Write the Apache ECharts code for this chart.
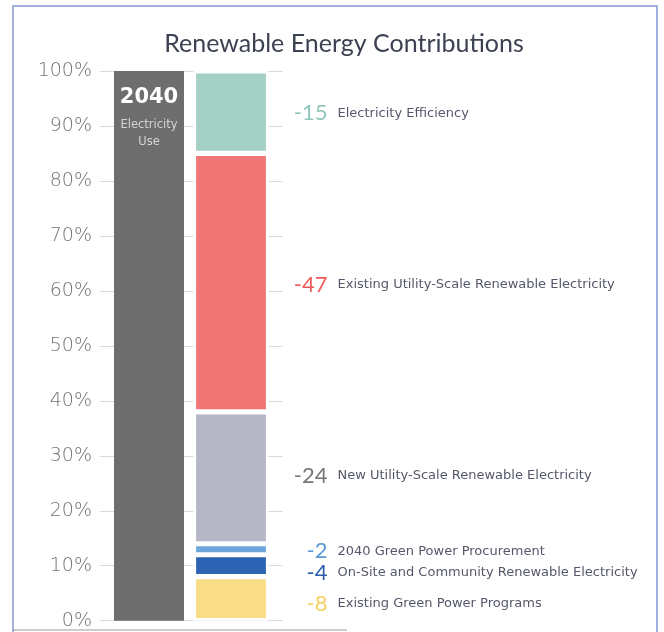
<!DOCTYPE html>
<html>
<head>
<meta charset="utf-8">
<script src="https://cdn.jsdelivr.net/npm/echarts@6/dist/echarts.min.js"></script>
<style>
  html, body { margin: 0; padding: 0; background: #ffffff; }
  #chart { width: 664px; height: 632px; }
</style>
</head>
<body>
<div id="chart"></div>
<script>
// Share of 2040 electricity use, and the contributions that cover it
const categories = ['2040'];
const totalUse = [100];
const contributionNames = [
  'Existing Green Power Programs',
  'On-Site and Community Renewable Electricity',
  '2040 Green Power Procurement',
  'New Utility-Scale Renewable Electricity',
  'Existing Utility-Scale Renewable Electricity',
  'Electricity Efficiency'
];
const contributionValues = [8, 4, 2, 24, 47, 15];
const yTicks = [0, 10, 20, 30, 40, 50, 60, 70, 80, 90, 100];

// Styling for each contribution, same order as above
const fillColors = ['#f8dc86', '#2d63b3', '#6fa6d9', '#b5b7c6', '#f07676', '#a3cfc5'];
const numberColors = ['#f6d060', '#2a5dac', '#5a9ad6', '#767676', '#ee5a5a', '#91c6bb'];
const labelNudge = [5, 7, 2, -2, 2, 1];

const SANS = 'Lato, "Noto Sans", sans-serif';
const WIDE = '"DejaVu Sans", sans-serif';
const NUM_SIZE = 22;
const NUM_BOX = 54;   // numbers are right-aligned inside this width

// measure a string so the value numbers can be right-aligned
const measureCtx = document.createElement('canvas').getContext('2d');
function textWidth(str, font) {
  measureCtx.font = font;
  return measureCtx.measureText(str).width;
}

const chart = echarts.init(document.getElementById('chart'), null, { renderer: 'canvas' });

const series = [{
  name: 'Electricity Use',
  type: 'bar',
  stack: 'use',
  barWidth: 70,
  barGap: '13.6%',
  data: totalUse,
  itemStyle: { color: '#6e6e6e' },
  label: {
    show: true,
    position: 'insideTop',
    distance: 8,
    formatter: () => '{y|' + categories[0] + '}\n{s|Electricity}\n{s|Use}',
    rich: {
      y: { fontSize: 21, fontWeight: 'bold', color: '#ffffff', lineHeight: 38, fontFamily: WIDE },
      s: { fontSize: 11.5, color: '#d4d4d4', lineHeight: 17, fontFamily: WIDE }
    }
  },
  silent: true,
  z: 2
}];

contributionValues.forEach((v, i) => {
  const numText = '-' + v;
  const w = textWidth(numText, NUM_SIZE + 'px Lato');
  series.push({
    name: contributionNames[i],
    type: 'bar',
    stack: 'parts',
    barWidth: 75,
    data: [v],
    itemStyle: { color: fillColors[i], borderColor: '#ffffff', borderWidth: 2.6 },
    label: {
      show: true,
      position: 'right',
      distance: 5 + Math.max(0, NUM_BOX - w),
      offset: [0, labelNudge[i]],
      formatter: () => '{n|' + numText + '}{t|' + contributionNames[i] + '}',
      rich: {
        n: { fontSize: NUM_SIZE, color: numberColors[i], fontFamily: SANS },
        t: { fontSize: 13, color: '#55586a', padding: [0, 0, 0, 10], fontFamily: WIDE }
      }
    },
    silent: true,
    z: 2
  });
});

chart.setOption({
  backgroundColor: '#ffffff',
  animation: false,
  title: {
    text: 'Renewable Energy Contributions',
    left: 339,
    top: 26,
    textAlign: 'center',
    textStyle: { fontFamily: SANS, fontSize: 25, fontWeight: 'normal', color: '#3c4252' }
  },
  grid: { left: 100, right: 381.5, top: 71, bottom: 11.3, containLabel: false },
  xAxis: {
    type: 'category',
    data: categories,
    show: false
  },
  yAxis: {
    type: 'value',
    min: yTicks[0],
    max: yTicks[yTicks.length - 1],
    interval: yTicks[1] - yTicks[0],
    axisLine: { show: false },
    axisTick: { show: false },
    axisLabel: {
      margin: 8,
      fontSize: 19,
      fontWeight: 200,
      color: '#737373',
      fontFamily: WIDE,
      formatter: '{value}%'
    },
    splitLine: { show: true, lineStyle: { color: '#d9d9d9', width: 1 } }
  },
  graphic: [
    {
      type: 'rect',
      shape: { x: 13, y: 6, width: 644, height: 700 },
      style: { fill: 'none', stroke: '#8596d6', lineWidth: 1.5 },
      silent: true
    },
    {
      type: 'line',
      shape: { x1: 13, y1: 630, x2: 347, y2: 630 },
      style: { stroke: '#9a9a9a', lineWidth: 1 },
      silent: true
    }
  ],
  series: series
});
</script>
</body>
</html>
